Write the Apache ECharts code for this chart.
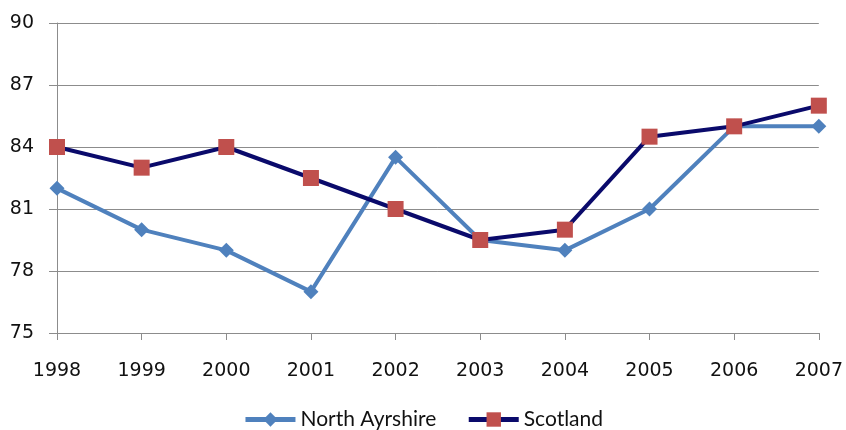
<!DOCTYPE html>
<html>
<head>
<meta charset="utf-8">
<script src="https://cdn.jsdelivr.net/npm/echarts@6/dist/echarts.min.js"></script>
<style>
  html, body { margin: 0; padding: 0; background: #fff; }
  #chart { width: 846px; height: 430px; }
</style>
</head>
<body>
<div id="chart"></div>
<script>
// Years along the x axis
const years = ['1998', '1999', '2000', '2001', '2002', '2003', '2004', '2005', '2006', '2007'];
// Series values
const northAyrshire = [82, 80, 79, 77, 83.5, 79.5, 79, 81, 85, 85];
const scotland = [84, 83, 84, 82.5, 81, 79.5, 80, 84.5, 85, 86];
// Value axis range
const yMin = 75;
const yMax = 90;
const yStep = 3;

const chart = echarts.init(document.getElementById('chart'));
const axisFont = { fontFamily: 'DejaVu Sans', fontSize: 19, color: '#111' };
const gridGray = '#8c8c8c';

chart.setOption({
  animation: false,
  backgroundColor: '#ffffff',
  grid: { left: 57, right: 23, top: 23, bottom: 97 },
  xAxis: {
    type: 'category',
    data: years,
    boundaryGap: false,
    axisLine: { lineStyle: { color: gridGray, width: 1 } },
    axisTick: { show: true, alignWithLabel: true, length: 7, lineStyle: { color: gridGray } },
    axisLabel: Object.assign({ margin: 29 }, axisFont),
    splitLine: { show: false }
  },
  yAxis: {
    type: 'value',
    min: yMin,
    max: yMax,
    interval: yStep,
    axisLine: { show: true, lineStyle: { color: gridGray, width: 1 } },
    axisTick: { show: true, length: 8, lineStyle: { color: gridGray } },
    axisLabel: Object.assign({ margin: 23 }, axisFont),
    splitLine: { show: true, lineStyle: { color: gridGray, width: 1 } }
  },
  legend: {
    bottom: 0,
    padding: 0,
    left: 'center',
    itemWidth: 50,
    itemHeight: 18,
    itemGap: 30,
    lineStyle: { width: 5 },
    textStyle: { fontFamily: 'Lato', fontSize: 21, color: '#111' },
    data: ['North Ayrshire', 'Scotland']
  },
  series: [
    {
      name: 'North Ayrshire',
      type: 'line',
      data: northAyrshire,
      symbol: 'diamond',
      symbolSize: 15,
      lineStyle: { color: '#4F81BD', width: 4 },
      itemStyle: { color: '#4F81BD' },
      z: 2
    },
    {
      name: 'Scotland',
      type: 'line',
      data: scotland,
      symbol: 'rect',
      symbolSize: 16,
      lineStyle: { color: '#0A0A6B', width: 4 },
      itemStyle: { color: '#C0504D' },
      z: 3
    }
  ]
});
</script>
</body>
</html>
